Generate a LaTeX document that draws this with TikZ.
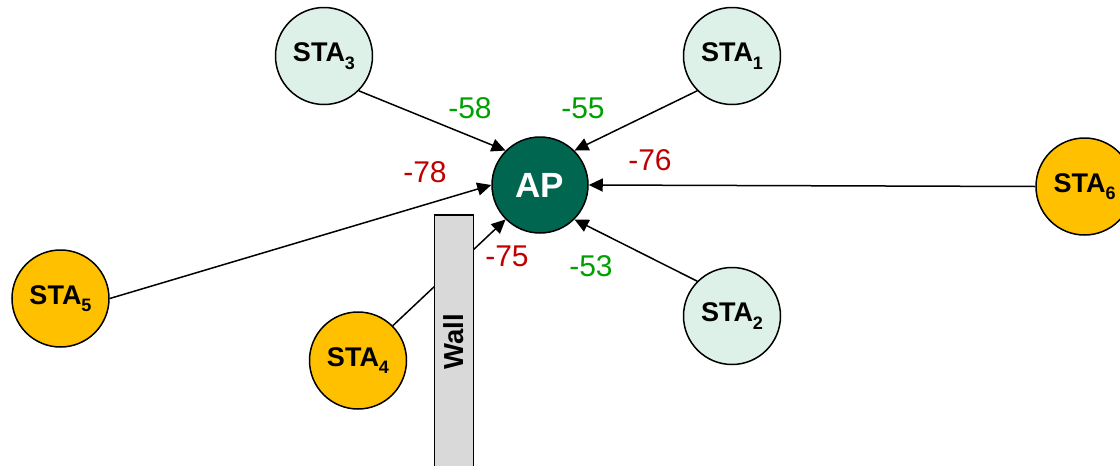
\documentclass[tikz,border=0pt]{standalone}
\usepackage{fontspec}
\setmainfont{Liberation Sans}
\usetikzlibrary{arrows.meta}
\definecolor{staGreen}{HTML}{DDF1E8}
\definecolor{staOrange}{HTML}{FFC000}
\definecolor{apGreen}{HTML}{00664F}
\definecolor{lblRed}{HTML}{C00000}
\definecolor{lblGreen}{HTML}{00A000}
\definecolor{wallGray}{HTML}{D9D9D9}
\newcommand{\stalabel}[1]{\fontsize{27}{27}\selectfont\bfseries STA\raisebox{-0.28em}{\fontsize{18}{18}\selectfont #1}}
\begin{document}
\begin{tikzpicture}[x=1pt,y=-1pt,
  stanode/.style={circle,draw=black,line width=1.5pt,minimum size=97pt,inner sep=0pt},
  stagreen/.style={stanode,fill=staGreen},
  staorange/.style={stanode,fill=staOrange},
  apnode/.style={circle,draw=black,line width=1.5pt,minimum size=96pt,inner sep=0pt,fill=apGreen,text=white,font=\fontsize{35}{35}\selectfont\bfseries},
  link/.style={line width=1.5pt,-{Triangle[length=14pt,width=13pt]}},
  rssi/.style={font=\fontsize{30}{30}\selectfont},
  wallbox/.style={draw=black,line width=1.2pt,fill=wallGray}
]
\useasboundingbox (0,0) rectangle (1120,466);
\node[apnode] (ap) at (540,185) {AP};
\node[stagreen] (s3) at (324,56) {\stalabel{3}};
\node[stagreen] (s1) at (732,56) {\stalabel{1}};
\node[stagreen] (s2) at (732,316) {\stalabel{2}};
\node[staorange] (s6) at (1084.5,186.5) {\stalabel{6}};
\node[staorange] (s5) at (60.5,298.5) {\stalabel{5}};
\node[staorange] (s4) at (358,360.5) {\stalabel{4}};
\draw[link] (s3.south east) -- (ap.north west);
\draw[link] (s1.south west) -- (ap.north east);
\draw[link] (s6.west) -- (ap.east);
\draw[link] (s5.east) -- (ap.west);
\draw[link] (s4.north east) -- (ap.south west);
\draw[link] (s2.north west) -- (ap.south east);
\path[wallbox] (434.5,215) rectangle (473.5,480);
\node[rotate=90,font=\fontsize{27.5}{27.5}\selectfont\bfseries] (wall) at (454,342) {Wall};
\node[rssi,text=lblGreen] (l58) at (470,108) {-58};
\node[rssi,text=lblGreen] (l55) at (583,108) {-55};
\node[rssi,text=lblRed] (l76) at (650,160) {-76};
\node[rssi,text=lblRed] (l78) at (425,172) {-78};
\node[rssi,text=lblRed] (l75) at (507,256) {-75};
\node[rssi,text=lblGreen] (l53) at (591,266) {-53};
\end{tikzpicture}
\end{document}
